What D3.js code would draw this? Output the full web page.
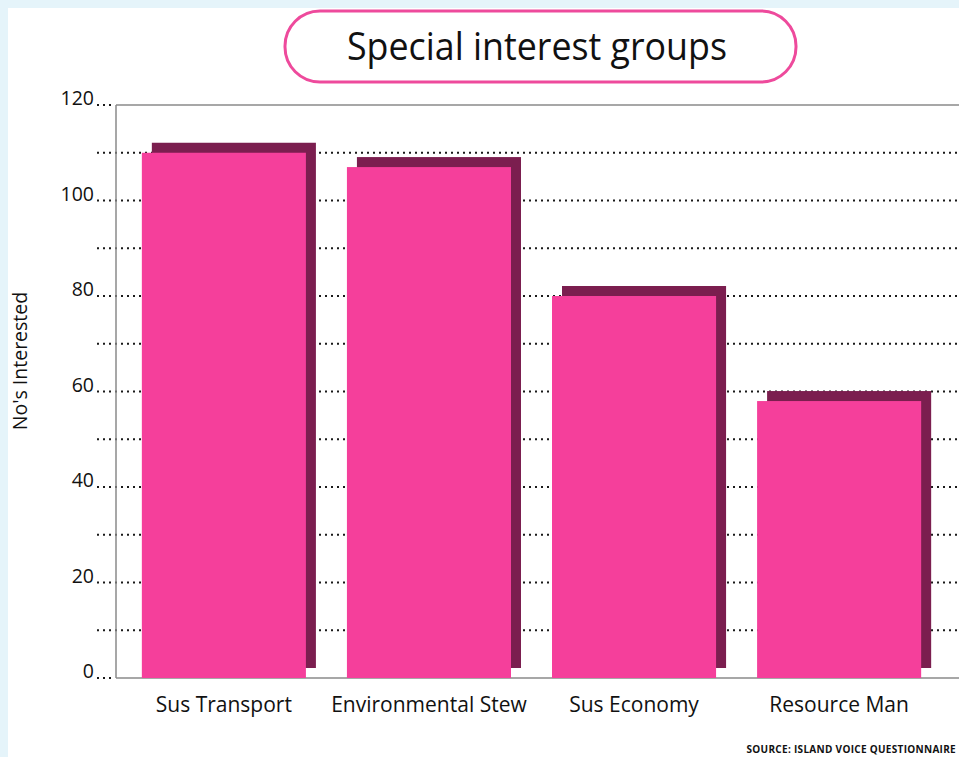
<!DOCTYPE html>
<html>
<head>
<meta charset="utf-8">
<script src="https://cdn.jsdelivr.net/npm/d3@7"></script>
<style>
  html, body { margin: 0; padding: 0; background: #e5f4fa; }
  svg { display: block; }
</style>
</head>
<body>
<svg id="chart" width="959" height="757"></svg>
<script>
// Survey results: number of respondents interested in each group
const categories = ["Sus Transport", "Environmental Stew", "Sus Economy", "Resource Man"];
const interested = [110, 107, 80, 58];
const tickValues = [0, 20, 40, 60, 80, 100, 120];
const gridValues = [0, 10, 20, 30, 40, 50, 60, 70, 80, 90, 100, 110, 120];

const W = 959, H = 757;
const plot = { left: 116, top: 105, bottom: 678, right: 959 };
const shadowOffset = 10;
const font = "'Open Sans', 'Noto Sans', sans-serif";

const svg = d3.select("#chart");

// white page panel
svg.append("rect").attr("x", 8).attr("y", 8).attr("width", W).attr("height", H).attr("fill", "#ffffff");

const y = d3.scaleLinear().domain([0, 120]).range([plot.bottom, plot.top]);
const x = d3.scaleBand().domain(categories).range([plot.left, 947])
  .paddingInner(0.2).paddingOuter(0.126);

// dotted grid lines with leader dots; the end values stop at the frame
svg.append("g").selectAll("line").data(gridValues).join("line")
  .attr("x1", 97)
  .attr("x2", d => (d === 0 || d === 120) ? plot.left - 2 : W)
  .attr("y1", d => y(d)).attr("y2", d => y(d))
  .attr("stroke", "#1a1a1a").attr("stroke-width", 2)
  .attr("stroke-dasharray", "2,4");

// axis frame
const axisColor = "#8a8a8a";
svg.append("line").attr("x1", plot.left).attr("x2", plot.left)
  .attr("y1", plot.top).attr("y2", plot.bottom)
  .attr("stroke", axisColor).attr("stroke-width", 1.5);
svg.append("line").attr("x1", plot.left).attr("x2", W)
  .attr("y1", plot.top).attr("y2", plot.top)
  .attr("stroke", axisColor).attr("stroke-width", 1.5);
svg.append("line").attr("x1", plot.left).attr("x2", W)
  .attr("y1", plot.bottom).attr("y2", plot.bottom)
  .attr("stroke", axisColor).attr("stroke-width", 1.5);

// bars: dark offset shadow behind a pink face
const bars = svg.append("g");
bars.selectAll("rect.shadow").data(interested).join("rect")
  .attr("class", "shadow")
  .attr("x", (d, i) => x(categories[i]) + shadowOffset)
  .attr("y", d => y(d) - shadowOffset)
  .attr("width", x.bandwidth())
  .attr("height", d => y(0) - y(d))
  .attr("fill", "#7b1e4f");
bars.selectAll("rect.face").data(interested).join("rect")
  .attr("class", "face")
  .attr("x", (d, i) => x(categories[i]))
  .attr("y", d => y(d))
  .attr("width", x.bandwidth())
  .attr("height", d => y(0) - y(d))
  .attr("fill", "#f53f9b");

// y tick labels
svg.append("g").selectAll("text").data(tickValues).join("text")
  .attr("x", 94).attr("y", d => y(d))
  .attr("text-anchor", "end")
  .attr("font-family", font).attr("font-size", 19.5).attr("fill", "#111")
  .text(d => d);

// category labels
svg.append("g").selectAll("text").data(categories).join("text")
  .attr("x", d => x(d) + x.bandwidth() / 2)
  .attr("y", 712)
  .attr("text-anchor", "middle")
  .attr("font-family", font).attr("font-size", 21).attr("fill", "#111")
  .text(d => d);

// y axis title
svg.append("text")
  .attr("transform", "translate(27,361) rotate(-90)")
  .attr("text-anchor", "middle")
  .attr("font-family", font).attr("font-size", 19.5).attr("fill", "#111")
  .text("No's Interested");

// title in a rounded pill
svg.append("rect")
  .attr("x", 285).attr("y", 11).attr("width", 511).attr("height", 71)
  .attr("rx", 35).attr("ry", 35)
  .attr("fill", "#ffffff").attr("stroke", "#ee4a9c").attr("stroke-width", 3);
svg.append("text")
  .attr("x", 537).attr("y", 60)
  .attr("text-anchor", "middle")
  .attr("font-family", font).attr("font-size", 38).attr("fill", "#111")
  .attr("textLength", 380).attr("lengthAdjust", "spacingAndGlyphs")
  .text("Special interest groups");

// source note
svg.append("text")
  .attr("x", 956).attr("y", 753)
  .attr("text-anchor", "end")
  .attr("font-family", font).attr("font-size", 10).attr("font-weight", "bold")
  .attr("letter-spacing", 0.3).attr("fill", "#111")
  .text("SOURCE: ISLAND VOICE QUESTIONNAIRE");
</script>
</body>
</html>
